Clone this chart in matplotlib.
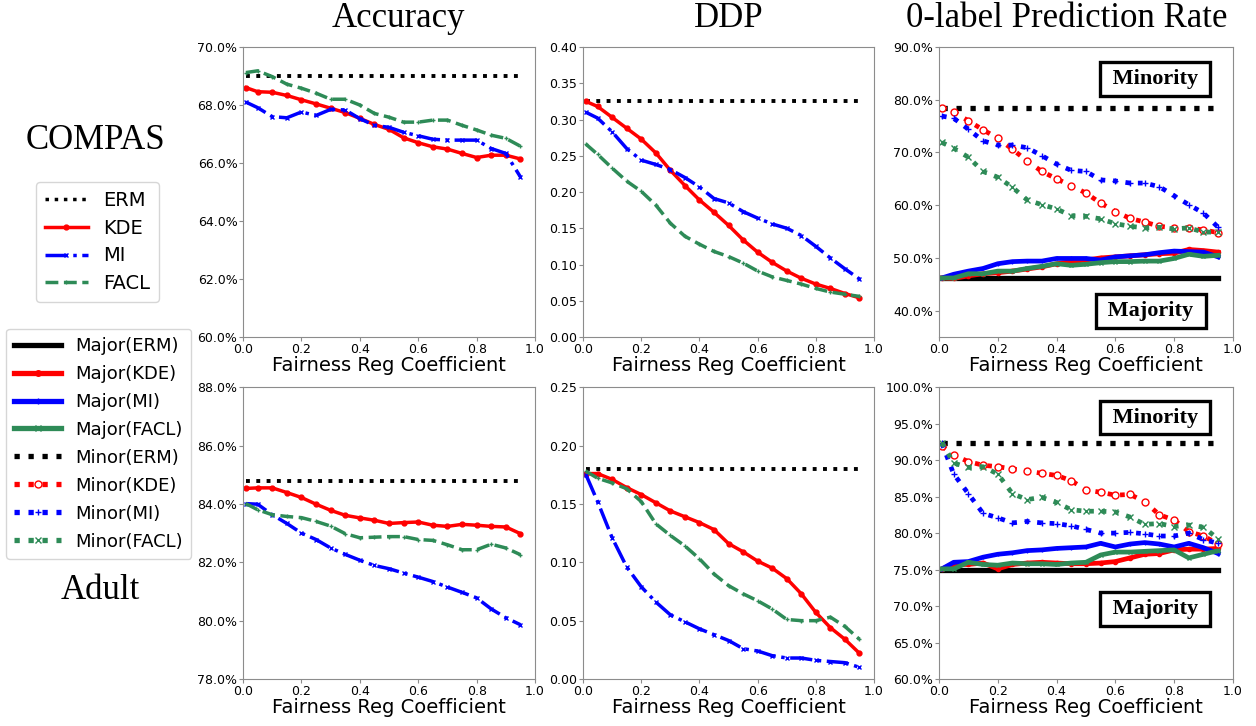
import numpy as np
import matplotlib
matplotlib.use("Agg")
import matplotlib.pyplot as plt
from matplotlib.lines import Line2D
from matplotlib.ticker import PercentFormatter, FormatStrFormatter

coef = [0.01, 0.05, 0.1, 0.15, 0.2, 0.25, 0.3, 0.35, 0.4, 0.45,
        0.5, 0.55, 0.6, 0.65, 0.7, 0.75, 0.8, 0.85, 0.9, 0.95]

# COMPAS accuracy (%)
compas_acc_erm = 69.0
compas_acc_kde = [68.60, 68.46, 68.44, 68.33, 68.18, 68.04, 67.89, 67.74, 67.54, 67.33,
                  67.16, 66.87, 66.70, 66.56, 66.48, 66.33, 66.19, 66.27, 66.27, 66.14]
compas_acc_mi = [68.10, 67.91, 67.60, 67.56, 67.76, 67.64, 67.85, 67.83, 67.53, 67.30,
                 67.23, 67.06, 66.94, 66.82, 66.79, 66.79, 66.79, 66.50, 66.33, 65.52]
compas_acc_facl = [69.12, 69.18, 68.98, 68.72, 68.58, 68.41, 68.20, 68.20, 68.00, 67.71,
                   67.58, 67.41, 67.41, 67.48, 67.48, 67.30, 67.14, 66.96, 66.85, 66.58]

# COMPAS DDP
compas_ddp_erm = 0.325
compas_ddp_kde = [0.325, 0.318, 0.303, 0.288, 0.273, 0.254, 0.230, 0.209, 0.189, 0.172,
                  0.154, 0.134, 0.117, 0.103, 0.091, 0.081, 0.073, 0.067, 0.060, 0.054]
compas_ddp_mi = [0.310, 0.302, 0.283, 0.260, 0.244, 0.238, 0.231, 0.220, 0.207, 0.191,
                 0.185, 0.173, 0.164, 0.156, 0.150, 0.140, 0.125, 0.109, 0.094, 0.080]
compas_ddp_facl = [0.266, 0.252, 0.233, 0.215, 0.201, 0.182, 0.157, 0.139, 0.128, 0.118,
                   0.111, 0.102, 0.091, 0.083, 0.078, 0.073, 0.067, 0.062, 0.059, 0.056]

# COMPAS 0-label prediction rate (%)
compas_major_erm = 46.1
compas_minor_erm = 78.5
compas_minor_kde = [78.5, 77.7, 76.0, 74.3, 72.7, 70.6, 68.4, 66.4, 65.0, 63.7,
                    62.3, 60.4, 58.8, 57.5, 56.8, 56.0, 55.7, 55.7, 55.3, 54.8]
compas_minor_mi = [76.9, 76.5, 74.4, 72.2, 71.4, 71.4, 70.9, 69.4, 67.8, 66.6,
                   66.4, 64.8, 64.6, 64.2, 64.2, 63.5, 61.8, 60.1, 58.5, 55.8]
compas_minor_facl = [71.9, 70.8, 69.1, 66.4, 65.3, 63.4, 61.0, 60.1, 59.3, 58.0,
                     57.9, 57.4, 56.5, 56.0, 55.7, 55.8, 55.5, 55.7, 54.9, 54.9]
compas_major_kde = [46.2, 46.1, 46.6, 47.0, 47.2, 47.5, 47.9, 48.3, 48.9, 49.3,
                    49.6, 50.0, 50.2, 50.4, 50.6, 50.8, 50.9, 51.6, 51.4, 51.1]
compas_major_mi = [46.2, 46.9, 47.5, 48.0, 48.9, 49.3, 49.4, 49.4, 49.9, 49.9,
                   49.9, 49.6, 50.2, 50.4, 50.6, 51.0, 51.3, 51.2, 51.1, 50.2]
compas_major_facl = [46.2, 46.2, 47.0, 47.0, 47.5, 47.5, 48.0, 48.4, 48.9, 48.6,
                     48.8, 49.1, 49.3, 49.3, 49.4, 49.4, 49.9, 50.7, 50.3, 50.5]

# Adult accuracy (%)
adult_acc_erm = 84.8
adult_acc_kde = [84.53, 84.55, 84.55, 84.39, 84.22, 83.99, 83.78, 83.61, 83.52, 83.44,
                 83.33, 83.36, 83.38, 83.27, 83.23, 83.30, 83.27, 83.23, 83.21, 82.98]
adult_acc_mi = [84.01, 83.99, 83.63, 83.33, 83.00, 82.78, 82.49, 82.27, 82.07, 81.89,
                81.78, 81.63, 81.49, 81.34, 81.15, 80.97, 80.78, 80.40, 80.10, 79.86]
adult_acc_facl = [84.01, 83.80, 83.63, 83.57, 83.53, 83.40, 83.24, 82.98, 82.84, 82.86,
                  82.88, 82.88, 82.78, 82.75, 82.60, 82.43, 82.43, 82.62, 82.49, 82.26]

# Adult DDP
adult_ddp_erm = 0.180
adult_ddp_kde = [0.176, 0.176, 0.171, 0.164, 0.158, 0.151, 0.144, 0.139, 0.134, 0.128,
                 0.116, 0.109, 0.101, 0.095, 0.086, 0.073, 0.057, 0.044, 0.034, 0.022]
adult_ddp_mi = [0.175, 0.152, 0.121, 0.096, 0.079, 0.066, 0.055, 0.049, 0.043, 0.038,
                0.033, 0.026, 0.024, 0.020, 0.018, 0.018, 0.016, 0.015, 0.014, 0.010]
adult_ddp_facl = [0.178, 0.172, 0.168, 0.163, 0.152, 0.133, 0.123, 0.114, 0.103, 0.090,
                  0.080, 0.073, 0.067, 0.060, 0.051, 0.050, 0.050, 0.053, 0.045, 0.034]

# Adult 0-label prediction rate (%)
adult_major_erm = 75.0
adult_minor_erm = 92.4
adult_minor_kde = [91.9, 90.7, 89.8, 89.3, 89.1, 88.8, 88.5, 88.2, 87.9, 87.2,
                   85.9, 85.6, 85.2, 85.3, 84.3, 82.5, 81.8, 80.2, 79.6, 78.5]
adult_minor_mi = [92.3, 88.1, 85.4, 82.7, 82.1, 81.4, 81.6, 81.4, 81.3, 81.0,
                  80.5, 80.0, 80.0, 80.1, 79.9, 79.6, 79.6, 80.0, 79.1, 78.6]
adult_minor_facl = [92.4, 89.6, 89.0, 89.1, 88.1, 85.4, 84.6, 84.9, 84.2, 83.2,
                    83.0, 83.0, 82.9, 82.2, 81.2, 81.3, 80.9, 81.1, 80.8, 79.2]
adult_major_kde = [75.1, 75.7, 75.7, 75.9, 75.1, 75.7, 75.9, 76.0, 75.9, 75.8,
                   75.8, 75.9, 76.1, 76.6, 77.1, 77.2, 77.7, 77.8, 77.8, 77.9]
adult_major_mi = [75.1, 76.0, 76.1, 76.7, 77.1, 77.3, 77.6, 77.7, 77.9, 78.0,
                  78.1, 78.6, 78.1, 78.5, 78.7, 78.5, 78.1, 78.6, 78.0, 77.2]
adult_major_facl = [75.1, 75.1, 76.0, 75.7, 75.6, 75.9, 75.8, 75.8, 75.7, 75.9,
                    76.0, 77.0, 77.4, 77.4, 77.5, 77.6, 77.7, 76.6, 77.1, 77.6]

GREEN = "seagreen"
SERIF = "Liberation Serif"
TICK_FS = 9
LABEL_FS = 14


def style_axes(ax):
    for s in ax.spines.values():
        s.set_color("0.55")
    ax.tick_params(labelsize=TICK_FS, color="0.55", length=3, pad=1)
    ax.set_xlim(0.0, 1.0)
    ax.set_xticks([0.0, 0.2, 0.4, 0.6, 0.8, 1.0])
    ax.xaxis.set_major_formatter(FormatStrFormatter("%.1f"))
    ax.set_xlabel("Fairness Reg Coefficient", fontsize=LABEL_FS, labelpad=0)


def plot_metric(ax, erm, kde, mi, facl):
    ax.plot([coef[0], coef[-1]], [erm, erm], ":", color="black", lw=2.8)
    ax.plot(coef, kde, "-", color="red", lw=2.5, marker="o", ms=3.5)
    ax.plot(coef, mi, "-.", color="blue", lw=2.5, marker="x", ms=3.5)
    ax.plot(coef, facl, "--", color=GREEN, lw=2.5, marker="+", ms=3.5)
    style_axes(ax)


def plot_rate(ax, major_erm, minor_erm, maj, mino, minor_pos, major_pos):
    maj_kde, maj_mi, maj_facl = maj
    min_kde, min_mi, min_facl = mino
    ax.plot([coef[0], coef[-1]], [major_erm, major_erm], "-", color="black", lw=3.8)
    ax.plot(coef, maj_kde, "-", color="red", lw=3.4, marker="o", ms=3)
    ax.plot(coef, maj_mi, "-", color="blue", lw=3.4, marker="+", ms=3)
    ax.plot(coef, maj_facl, "-", color=GREEN, lw=3.4, marker="x", ms=3)
    ax.plot([coef[0], coef[-1]], [minor_erm, minor_erm], ":", color="black", lw=3.8)
    ax.plot(coef, min_kde, ":", color="red", lw=3.4, marker="o", ms=5, mfc="white")
    ax.plot(coef, min_mi, ":", color="blue", lw=3.4, marker="+", ms=4)
    ax.plot(coef, min_facl, ":", color=GREEN, lw=3.4, marker="x", ms=4)
    box = dict(boxstyle="square,pad=0.3", fc="white", ec="black", lw=2.4)
    ax.text(minor_pos[0], minor_pos[1], " Minority ", transform=ax.transAxes,
            ha="center", va="center", fontsize=16, fontweight="bold",
            family=SERIF, bbox=box)
    ax.text(major_pos[0], major_pos[1], " Majority ", transform=ax.transAxes,
            ha="center", va="center", fontsize=16, fontweight="bold",
            family=SERIF, bbox=box)
    style_axes(ax)


fig = plt.figure(figsize=(12.56, 7.26), dpi=100)

cols = [0.1935, 0.4642, 0.7476]
widths = [0.2325, 0.2317, 0.234]
rows = [(0.5358, 0.3994), (0.0647, 0.402)]

axes = [[fig.add_axes([cols[c], rows[r][0], widths[c], rows[r][1]]) for c in range(3)]
        for r in range(2)]

# COMPAS row
ax = axes[0][0]
plot_metric(ax, compas_acc_erm, compas_acc_kde, compas_acc_mi, compas_acc_facl)
ax.set_ylim(60, 70)
ax.yaxis.set_major_formatter(PercentFormatter(decimals=1))

ax = axes[0][1]
plot_metric(ax, compas_ddp_erm, compas_ddp_kde, compas_ddp_mi, compas_ddp_facl)
ax.set_ylim(0.0, 0.40)
ax.yaxis.set_major_formatter(FormatStrFormatter("%.2f"))

ax = axes[0][2]
plot_rate(ax, compas_major_erm, compas_minor_erm,
          (compas_major_kde, compas_major_mi, compas_major_facl),
          (compas_minor_kde, compas_minor_mi, compas_minor_facl),
          (0.735, 0.89), (0.72, 0.09))
ax.set_ylim(35, 90)
ax.set_yticks([40, 50, 60, 70, 80, 90])
ax.yaxis.set_major_formatter(PercentFormatter(decimals=1))

# Adult row
ax = axes[1][0]
plot_metric(ax, adult_acc_erm, adult_acc_kde, adult_acc_mi, adult_acc_facl)
ax.set_ylim(78, 88)
ax.yaxis.set_major_formatter(PercentFormatter(decimals=1))

ax = axes[1][1]
plot_metric(ax, adult_ddp_erm, adult_ddp_kde, adult_ddp_mi, adult_ddp_facl)
ax.set_ylim(0.0, 0.25)
ax.set_yticks([0.0, 0.05, 0.10, 0.15, 0.20, 0.25])
ax.yaxis.set_major_formatter(FormatStrFormatter("%.2f"))

ax = axes[1][2]
plot_rate(ax, adult_major_erm, adult_minor_erm,
          (adult_major_kde, adult_major_mi, adult_major_facl),
          (adult_minor_kde, adult_minor_mi, adult_minor_facl),
          (0.735, 0.895), (0.735, 0.24))
ax.set_ylim(60, 100)
ax.yaxis.set_major_formatter(PercentFormatter(decimals=1))

# column titles and row labels
fig.text(0.317, 0.975, "Accuracy", ha="center", va="center", fontsize=25, family=SERIF)
fig.text(0.580, 0.975, "DDP", ha="center", va="center", fontsize=25, family=SERIF)
fig.text(0.849, 0.975, "0-label Prediction Rate", ha="center", va="center",
         fontsize=25, family=SERIF)
fig.text(0.0756, 0.807, "COMPAS", ha="center", va="center", fontsize=25, family=SERIF)
fig.text(0.0796, 0.187, "Adult", ha="center", va="center", fontsize=25, family=SERIF)

# legends
h1 = [
    Line2D([], [], ls=":", color="black", lw=2.5),
    Line2D([], [], ls="-", color="red", lw=2.5, marker="o", ms=3.5),
    Line2D([], [], ls="-.", color="blue", lw=2.5, marker="x", ms=3.5),
    Line2D([], [], ls="--", color=GREEN, lw=2.5, marker="+", ms=3.5),
]
fig.legend(h1, ["ERM", "KDE", "MI", "FACL"], loc="upper left",
           bbox_to_anchor=(0.0287, 0.749), borderaxespad=0, fontsize=14,
           handlelength=2.2, labelspacing=0.45, borderpad=0.45)

h2 = [
    Line2D([], [], ls="-", color="black", lw=3.8),
    Line2D([], [], ls="-", color="red", lw=3.8, marker="o", ms=4),
    Line2D([], [], ls="-", color="blue", lw=3.8, marker="+", ms=4),
    Line2D([], [], ls="-", color=GREEN, lw=3.8, marker="x", ms=4),
    Line2D([], [], ls=":", color="black", lw=3.8),
    Line2D([], [], ls=":", color="red", lw=3.8, marker="o", ms=5, mfc="white"),
    Line2D([], [], ls=":", color="blue", lw=3.8, marker="+", ms=5),
    Line2D([], [], ls=":", color=GREEN, lw=3.8, marker="x", ms=5),
]
fig.legend(h2, ["Major(ERM)", "Major(KDE)", "Major(MI)", "Major(FACL)",
                "Minor(ERM)", "Minor(KDE)", "Minor(MI)", "Minor(FACL)"],
           loc="upper left", bbox_to_anchor=(0.0048, 0.547), borderaxespad=0,
           fontsize=13, handlelength=2.6, labelspacing=0.55, borderpad=0.45)

fig.savefig("out.png", dpi=100)
